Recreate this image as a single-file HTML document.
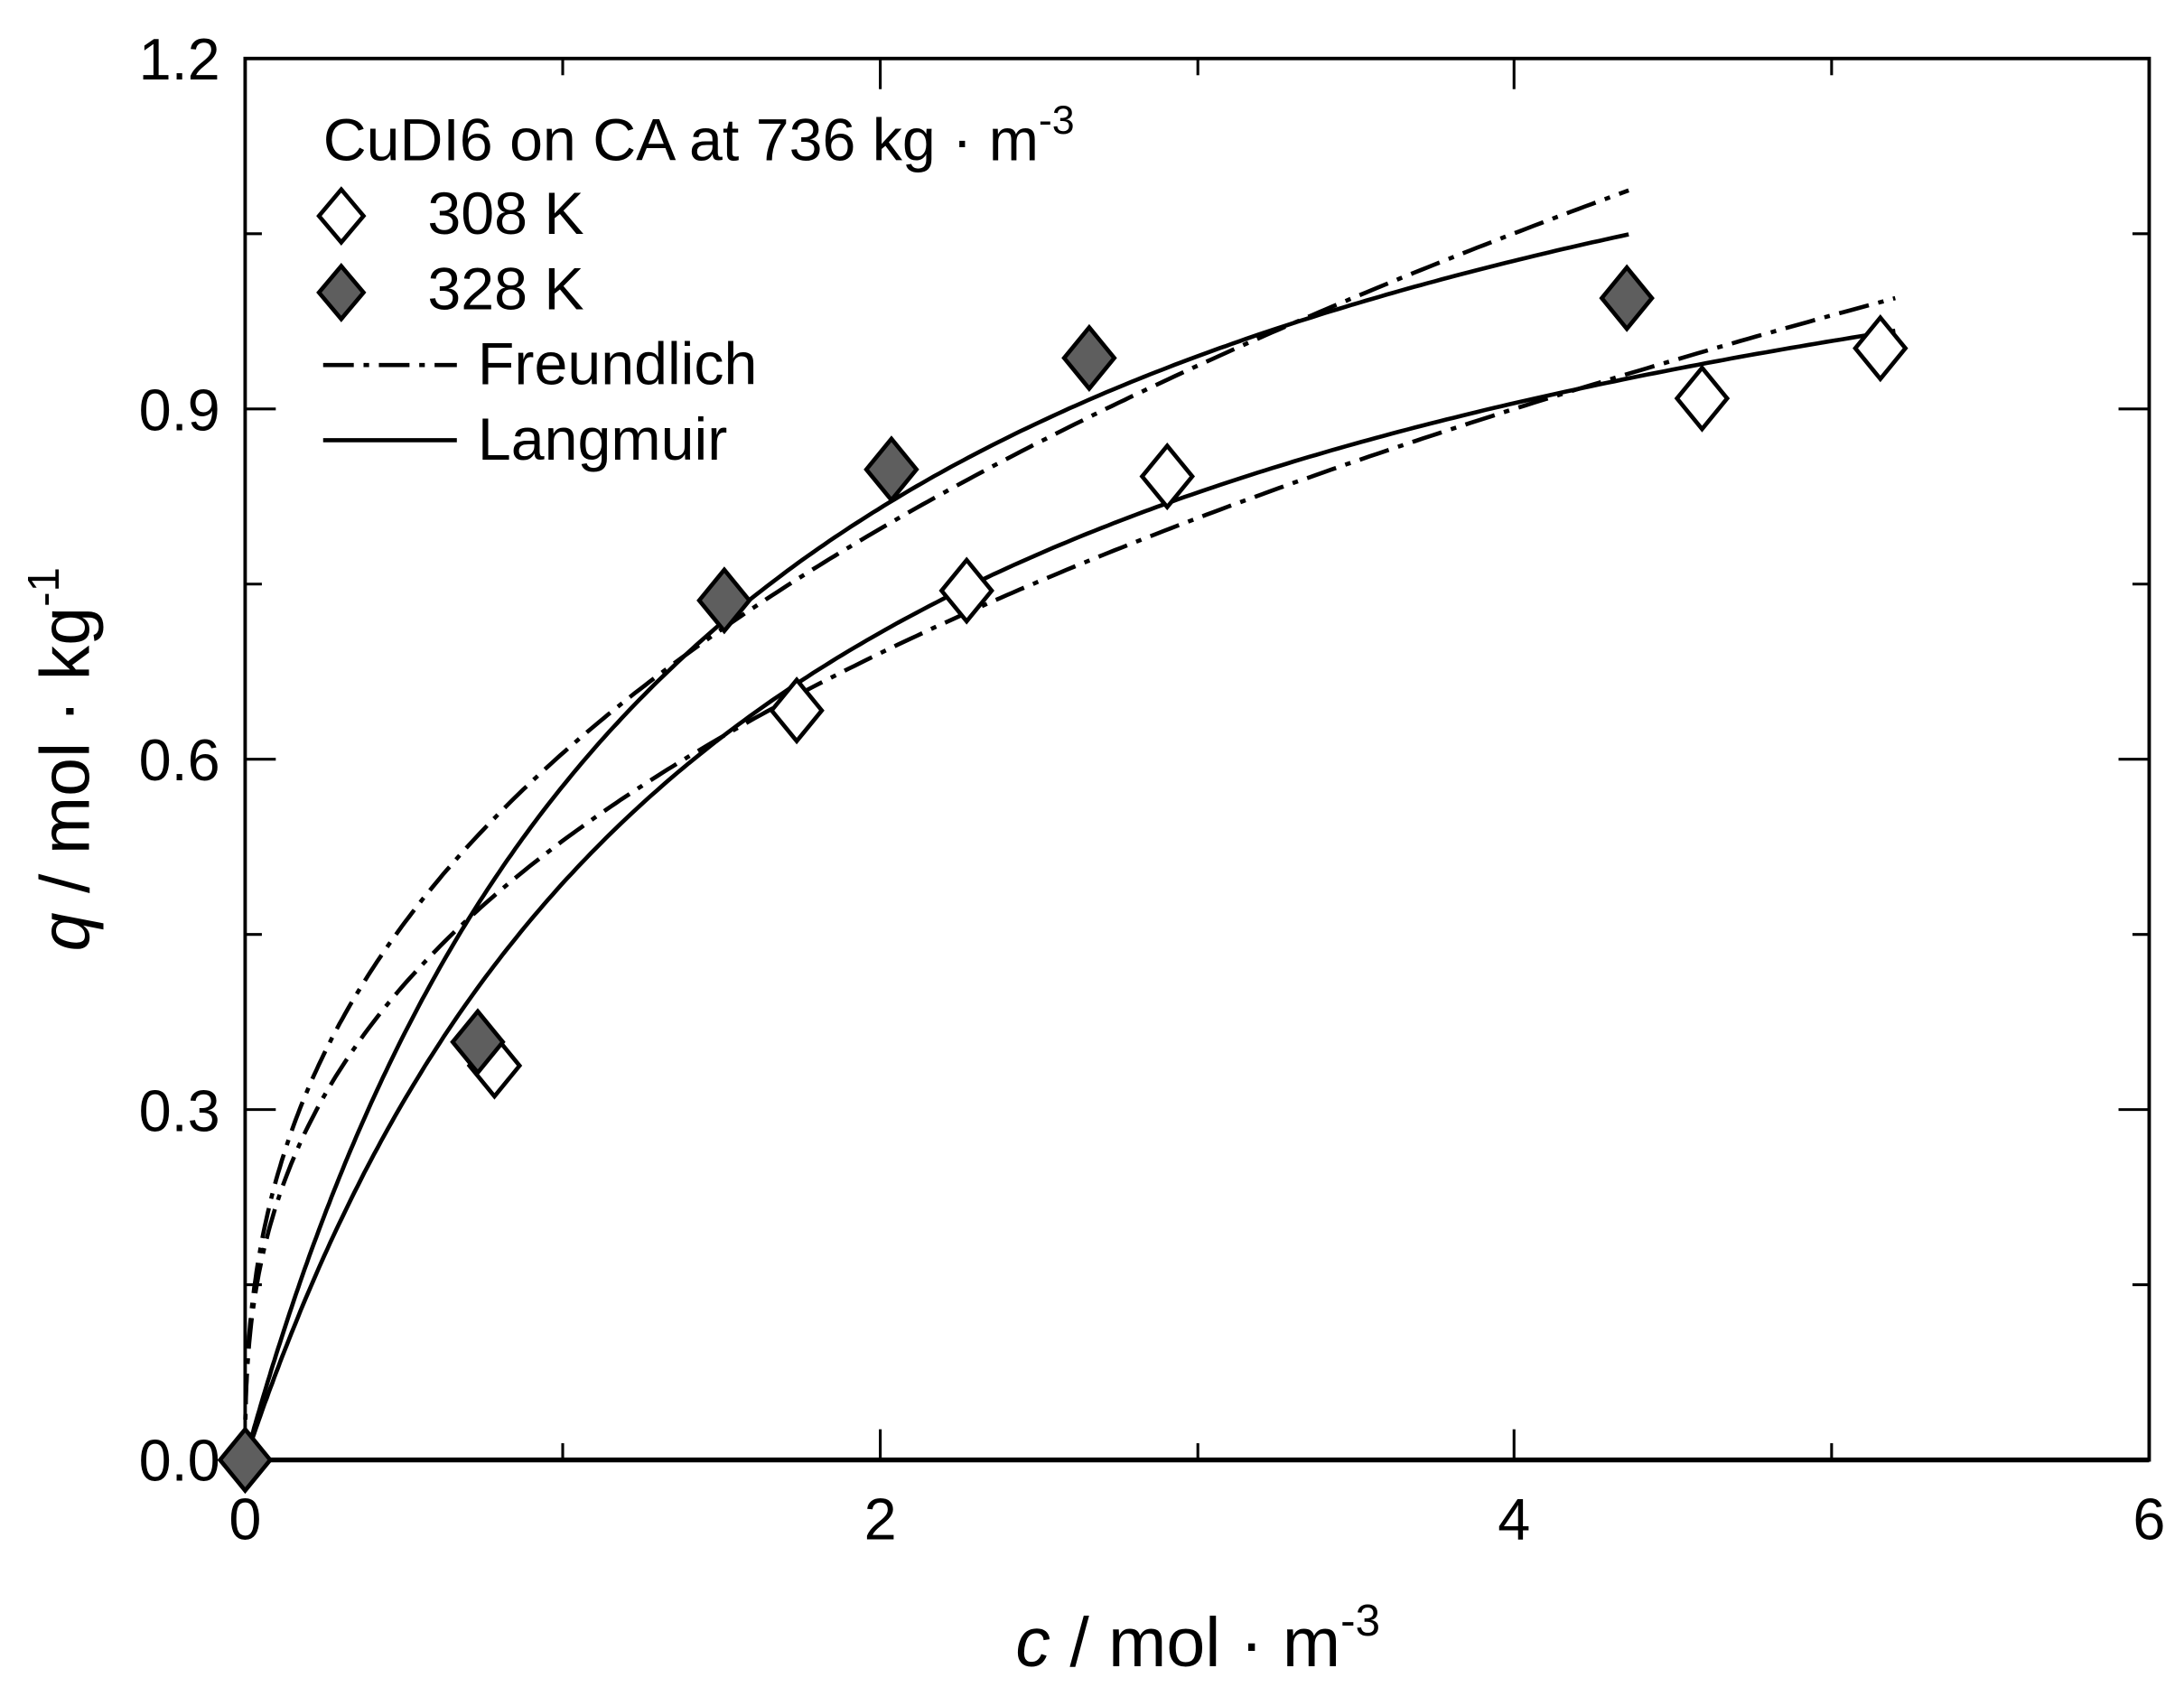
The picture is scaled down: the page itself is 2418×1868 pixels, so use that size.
<!DOCTYPE html>
<html><head><meta charset="utf-8"><style>
html,body{margin:0;padding:0;background:#fff;}
svg{display:block;}
text{font-family:"Liberation Sans",Arial,sans-serif;fill:#000;}
</style></head><body>
<svg id="s" width="2418" height="1868" viewBox="0 0 1568 1211" preserveAspectRatio="none" xmlns="http://www.w3.org/2000/svg">
<rect width="1568" height="1211" fill="#fff"/>
<g stroke="#000" stroke-width="2">
<line x1="404" y1="1048" x2="404" y2="1036"/><line x1="632" y1="1048" x2="632" y2="1026"/>
<line x1="860" y1="1048" x2="860" y2="1036"/><line x1="1087" y1="1048" x2="1087" y2="1026"/>
<line x1="1315" y1="1048" x2="1315" y2="1036"/>
<line x1="404" y1="42" x2="404" y2="54"/><line x1="632" y1="42" x2="632" y2="64"/>
<line x1="860" y1="42" x2="860" y2="54"/><line x1="1087" y1="42" x2="1087" y2="64"/>
<line x1="1315" y1="42" x2="1315" y2="54"/>
</g>
<g id="yt" stroke="#000" stroke-width="2"></g>
<g id="curves" fill="none" stroke="#000" stroke-width="3"></g>
<rect x="176" y="42" width="1367" height="1006" fill="none" stroke="#000" stroke-width="2.5"/>
<line x1="176" y1="1048" x2="1543" y2="1048" stroke="#000" stroke-width="3.5"/>
<g id="pts" stroke="#000" stroke-width="3"></g>
<g font-size="42">
<text x="176" y="1105" text-anchor="middle">0</text>
<text x="632" y="1105" text-anchor="middle">2</text>
<text x="1087" y="1105" text-anchor="middle">4</text>
<text x="1543" y="1105" text-anchor="middle">6</text>
<text x="158" y="1063" text-anchor="end">0.0</text>
<text x="158" y="812" text-anchor="end">0.3</text>
<text x="158" y="560" text-anchor="end">0.6</text>
<text x="158" y="309" text-anchor="end">0.9</text>
<text x="158" y="57" text-anchor="end">1.2</text>
</g>
<text x="860" y="1196" font-size="50" text-anchor="middle"><tspan font-style="italic">c</tspan> / mol · m<tspan font-size="32" dy="-22">-3</tspan></text>
<text transform="translate(64,545) rotate(-90)" font-size="50" text-anchor="middle"><tspan font-style="italic">q</tspan> / mol · kg<tspan font-size="32" dy="-22">-1</tspan></text>
<g font-size="43">
<text x="232" y="115">CuDI6 on CA at 736 kg · m<tspan font-size="29" dy="-19">-3</tspan></text>
<text x="307" y="168">308 K</text>
<text x="307" y="222">328 K</text>
<text x="343" y="276">Freundlich</text>
<text x="343" y="330">Langmuir</text>
</g>
<polygon points="245,136 261,155 245,174 229,155" fill="#fff" stroke="#000" stroke-width="3"/>
<polygon points="245,191 261,210 245,229 229,210" fill="#5e5e5e" stroke="#000" stroke-width="3"/>
<line x1="232" y1="262" x2="328" y2="262" stroke="#000" stroke-width="3" stroke-dasharray="22 7 4 7"/>
<line x1="232" y1="316" x2="328" y2="316" stroke="#000" stroke-width="3"/>
<script>
var ns="http://www.w3.org/2000/svg";
function X(c){return 176+c*227.83;}function Y(q){return 1048-q*838.3;}
function el(p,t,a){var e=document.createElementNS(ns,t);for(var k in a)e.setAttribute(k,a[k]);p.appendChild(e);return e;}
var yt=document.getElementById('yt');
for(var i=1;i<8;i++){var y=Y(i*0.15);var L=(i%2==0)?22:12;
el(yt,'line',{x1:176,y1:y,x2:176+L,y2:y});el(yt,'line',{x1:1543,y1:y,x2:1543-L,y2:y});}
var cv=document.getElementById('curves');
function path(f,cmax,dash){var d='';for(var i=0;i<=300;i++){var c=cmax*Math.pow(i/300,1.6);var q=f(c);d+=(i?'L':'M')+X(c).toFixed(1)+','+Y(q).toFixed(1);}
var a={d:d};if(dash)a['stroke-dasharray']='22 7 4 7';el(cv,'path',a);}
path(function(c){return 1.388*0.711*c/(1+0.711*c);},4.36);
path(function(c){return 1.253*0.65*c/(1+0.65*c);},5.2);
path(function(c){return 0.605*Math.pow(c,0.398);},4.36,1);
path(function(c){return 0.53*Math.pow(c,0.382);},5.2,1);
var pts=document.getElementById('pts');
function dia(x,y,f){el(pts,'polygon',{points:x+','+(y-22)+' '+(x+18)+','+y+' '+x+','+(y+22)+' '+(x-18)+','+y,fill:f});}
[[355,765],[572,510],[694,424],[838,342],[1222,286],[1350,250]].forEach(function(p){dia(p[0],p[1],'#fff');});
[[176,1048],[343,748],[520,431],[640,337],[782,257],[1168,214]].forEach(function(p){dia(p[0],p[1],'#5e5e5e');});
</script>
</svg>
</body></html>
